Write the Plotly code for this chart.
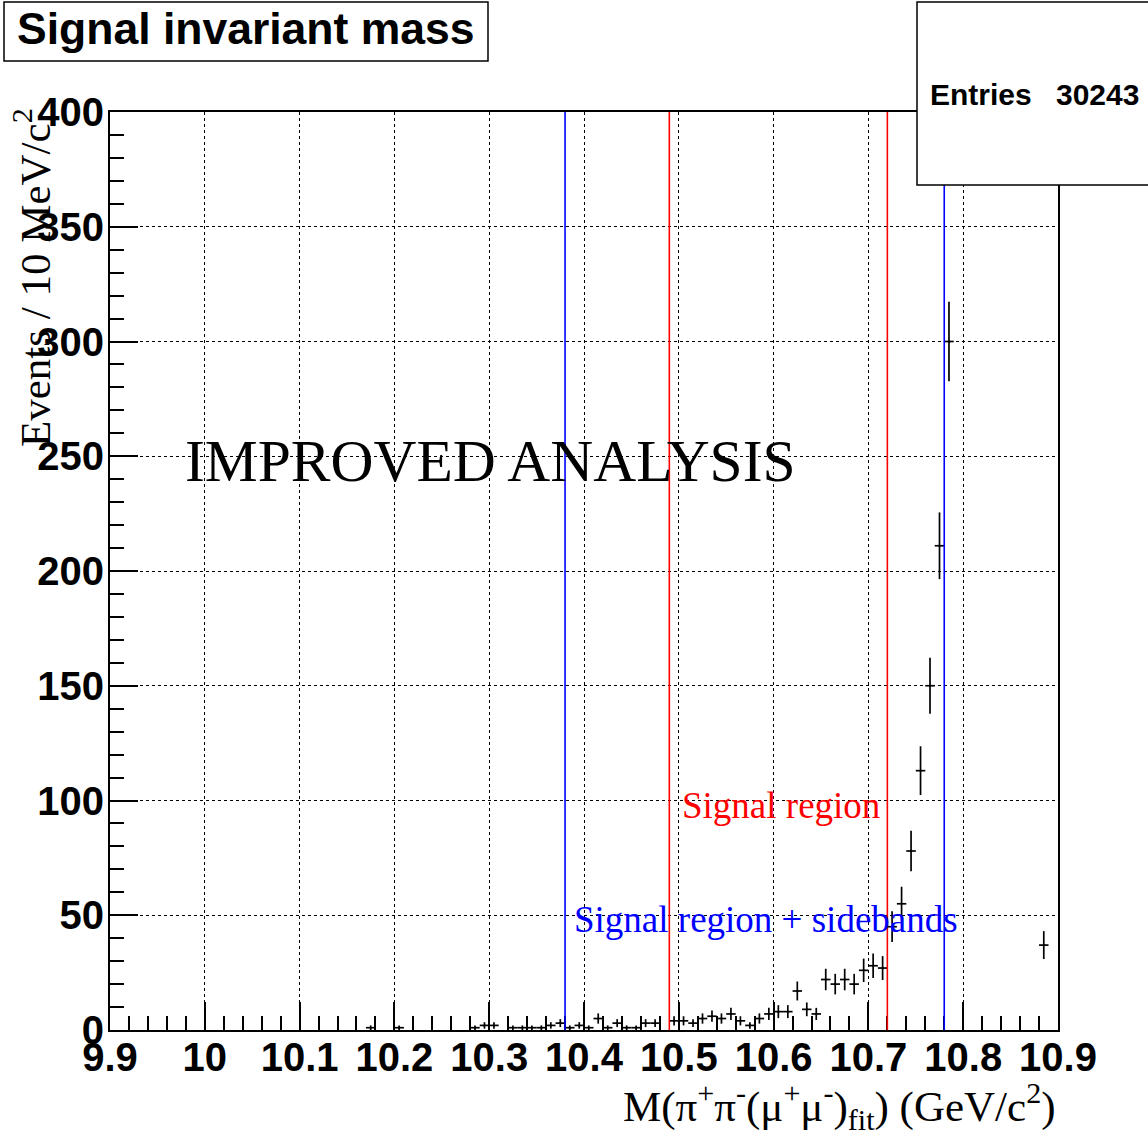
import numpy as np
import plotly.graph_objects as go

# ---------------- data ----------------
bin_low = 9.9
bin_width = 0.01
# events per 10 MeV bin, bins 0..99 (None = empty or above the displayed range)
counts = [
    0, 0, 0, 0, 0, 0, 0, 0, 0, 0,        # 9.90-10.00
    0, 0, 0, 0, 0, 0, 0, 0, 0, 0,        # 10.00-10.10
    0, 0, 0, 0, 0, 0, 0, 1, 0, 0,        # 10.10-10.20
    1, 0, 0, 0, 0, 0, 0, 0, 1, 2,        # 10.20-10.30
    2, 0, 1, 1, 1, 1, 2, 3, 1, 2,        # 10.30-10.40
    1, 5, 1, 3, 1, 1, 3, 3, 0, 4,        # 10.40-10.50
    4, 3, 5, 6, 5, 7, 4, 2, 5, 7,        # 10.50-10.60
    8, 8, 17, 9, 7, 22, 20, 22, 20, 26,  # 10.60-10.70
    28, 27, 45, 55, 78, 113, 150, 211, 300, None,  # 10.70-10.80
    None, None, None, None, None, None, None, None, 37, 0,  # 10.80-10.90
]
x_ticks = [9.9, 10.0, 10.1, 10.2, 10.3, 10.4, 10.5, 10.6, 10.7, 10.8, 10.9]
x_tick_labels = ["9.9", "10", "10.1", "10.2", "10.3", "10.4", "10.5", "10.6", "10.7", "10.8", "10.9"]
y_ticks = [0, 50, 100, 150, 200, 250, 300, 350, 400]
y_tick_labels = ["0", "50", "100", "150", "200", "250", "300", "350", "400"]
signal_region = [10.49, 10.72]
sideband_region = [10.38, 10.78]
entries = 30243

# ---------------- figure ----------------
xs, ys, errs = [], [], []
for i, c in enumerate(counts):
    if c is None or c == 0:
        continue
    xs.append(bin_low + (i + 0.5) * bin_width)
    ys.append(c)
    errs.append(np.sqrt(c))

W, H = 1148, 1145
L, R, T, B = 110, 1058, 112, 1030
pw, ph = R - L, B - T


def px(xp):
    return (xp - L) / pw


def py(yp):
    return (B - yp) / ph


fig = go.Figure()
fig.add_trace(go.Scatter(
    x=xs, y=ys, mode="markers",
    marker=dict(size=2, color="black"),
    error_y=dict(type="data", array=errs, visible=True, color="black", thickness=1.7, width=0),
    error_x=dict(type="constant", value=bin_width / 2, visible=True, color="black", thickness=1.7, width=0),
    showlegend=False, hoverinfo="x+y",
))

shapes = []
for xv in sideband_region:
    shapes.append(dict(type="line", xref="x", yref="y", x0=xv, x1=xv, y0=0, y1=400,
                       line=dict(color="#0000ff", width=1.6), layer="above"))
for xv in signal_region:
    shapes.append(dict(type="line", xref="x", yref="y", x0=xv, x1=xv, y0=0, y1=400,
                       line=dict(color="#ff0000", width=1.6), layer="above"))
# title box
shapes.append(dict(type="rect", xref="paper", yref="paper",
                   x0=px(4), x1=px(488), y0=py(61), y1=py(2),
                   line=dict(color="black", width=1.5), fillcolor="white", layer="above"))
# stats box
shapes.append(dict(type="rect", xref="paper", yref="paper",
                   x0=px(917), x1=px(1152), y0=py(185), y1=py(2),
                   line=dict(color="black", width=1.5), fillcolor="white", layer="above"))

annotations = [
    dict(text="<b>Signal invariant mass</b>", xref="paper", yref="paper",
         x=px(246), y=py(28), xanchor="center", yanchor="middle", showarrow=False,
         font=dict(family="Liberation Sans", size=44.5, color="black")),
    dict(text="<b>Entries</b>", xref="paper", yref="paper",
         x=px(928), y=py(95), xanchor="left", yanchor="middle", showarrow=False,
         font=dict(family="Liberation Sans", size=30, color="black")),
    dict(text="<b>%d</b>" % entries, xref="paper", yref="paper",
         x=px(1141), y=py(95), xanchor="right", yanchor="middle", showarrow=False,
         font=dict(family="Liberation Sans", size=30, color="black")),
    dict(text="IMPROVED ANALYSIS", xref="x", yref="y",
         x=9.977, y=248, xanchor="left", yanchor="middle", showarrow=False,
         font=dict(family="Liberation Serif", size=59.5, color="black")),
    dict(text="Signal region", xref="x", yref="y",
         x=10.501, y=98, xanchor="left", yanchor="middle", showarrow=False,
         font=dict(family="Liberation Serif", size=37, color="#ff0000")),
    dict(text="Signal region + sidebands", xref="x", yref="y",
         x=10.387, y=48, xanchor="left", yanchor="middle", showarrow=False,
         font=dict(family="Liberation Serif", size=37, color="#0000ff")),
    dict(text="Events / 10 MeV/c<sup>2</sup>", xref="paper", yref="paper",
         x=px(32), y=py(278), xanchor="center", yanchor="middle", textangle=-90,
         showarrow=False, font=dict(family="Liberation Serif", size=43, color="black")),
    dict(text="M(π<sup>+</sup>π<sup>-</sup>(μ<sup>+</sup>μ<sup>-</sup>)<sub>fit</sub>) (GeV/c<sup>2</sup>)",
         xref="paper", yref="paper", x=1.0, y=py(1106), xanchor="right", yanchor="middle",
         showarrow=False, font=dict(family="Liberation Serif", size=43, color="black")),
]

axis_common = dict(
    showline=True, linecolor="black", linewidth=2, mirror=True,
    showgrid=True, gridcolor="black", griddash="dot", gridwidth=1,
    zeroline=False, ticks="inside", tickcolor="black", tickwidth=1.5,
    tickfont=dict(family="Liberation Sans", size=40, color="black", weight="bold"),
)

fig.update_layout(
    width=W, height=H, autosize=False,
    margin=dict(l=L, r=W - R, t=T, b=H - B, pad=0),
    paper_bgcolor="white", plot_bgcolor="white",
    xaxis=dict(range=[9.9, 10.9], tickmode="array", tickvals=x_ticks, ticktext=x_tick_labels,
               ticklen=28, ticklabelstandoff=-9,
               minor=dict(dtick=0.02, tick0=9.9, ticks="inside", ticklen=14, tickcolor="black",
                          tickwidth=1.5, showgrid=False),
               **axis_common),
    yaxis=dict(range=[0, 400], tickmode="array", tickvals=y_ticks, ticktext=y_tick_labels,
               ticklen=28, ticklabelstandoff=-4,
               minor=dict(dtick=10, tick0=0, ticks="inside", ticklen=14, tickcolor="black",
                          tickwidth=1.5, showgrid=False),
               **axis_common),
    shapes=shapes,
    annotations=annotations,
)

fig.write_html("out.html", config={"displayModeBar": False},
               post_script="document.body.style.margin='0';")
